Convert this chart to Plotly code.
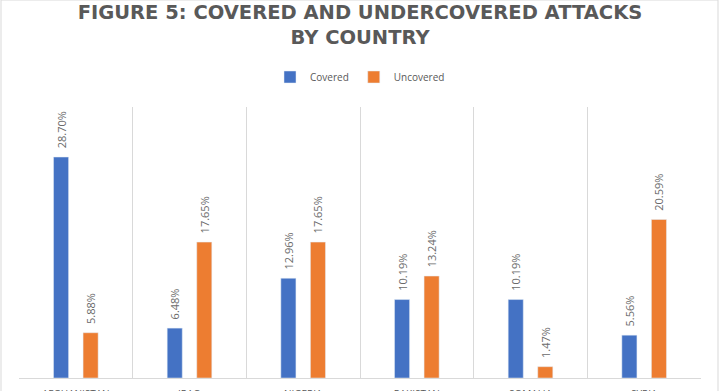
import plotly.graph_objects as go

countries = ["AFGHANISTAN", "IRAQ", "NIGERIA", "PAKISTAN", "SOMALIA", "SYRIA"]
covered = [28.70, 6.48, 12.96, 10.19, 10.19, 5.56]
uncovered = [5.88, 17.65, 17.65, 13.24, 1.47, 20.59]

BLUE = "#4472C4"
ORANGE = "#ED7D31"
GRAY = "#595959"

def labels(vals):
    return ["\u00a0\u00a0" + f"{v:.2f}%" for v in vals]

fig = go.Figure()
for name, vals, color in [("Covered", covered, BLUE), ("Uncovered", uncovered, ORANGE)]:
    fig.add_trace(go.Bar(
        name=name, x=countries, y=vals, marker_color=color,
        text=labels(vals), textposition="outside", textangle=-90,
        constraintext="none",
        textfont=dict(family="Open Sans", size=11, color="#6a6a6a"),
        cliponaxis=False,
    ))

fig.update_layout(
    width=720, height=391,
    margin=dict(l=19, r=19, t=107, b=13, autoexpand=False),
    paper_bgcolor="white", plot_bgcolor="white",
    barmode="group", bargap=0.48, bargroupgap=0.49,
    title=dict(
        text="FIGURE 5: COVERED AND UNDERCOVERED ATTACKS<br>BY COUNTRY",
        x=0.5, xanchor="center", yref="container", y=1 - 19 / 391, yanchor="middle",
        font=dict(family="DejaVu Sans", size=19.5, color=GRAY, weight="bold"),
    ),
    legend=dict(
        orientation="h", x=0.5, xanchor="center", yref="container",
        y=1 - 77 / 391, yanchor="middle",
        font=dict(family="Open Sans", size=10, color=GRAY),
        itemwidth=30, traceorder="normal",
    ),
    showlegend=True,
)
fig.update_xaxes(
    tickson="boundaries", showgrid=True, gridcolor="#d9d9d9", gridwidth=1,
    showline=True, linecolor="#d9d9d9", linewidth=1,
    ticks="", tickfont=dict(family="Open Sans", size=10, color=GRAY),
    ticklabelstandoff=7, automargin=False,
)
fig.update_yaxes(
    range=[0, 35.2], showgrid=False, zeroline=False, showticklabels=False,
    showline=False, automargin=False,
)
fig.add_shape(
    type="rect", xref="paper", yref="paper",
    x0=-18/682, x1=699/682, y0=-1, y1=107/271 + 1,
    line=dict(color="#d9d9d9", width=1), fillcolor="rgba(0,0,0,0)", layer="below",
)

fig.write_html(
    "out.html",
    config={"displayModeBar": False},
    post_script="document.body.style.margin='0';document.body.style.overflow='hidden';",
)
